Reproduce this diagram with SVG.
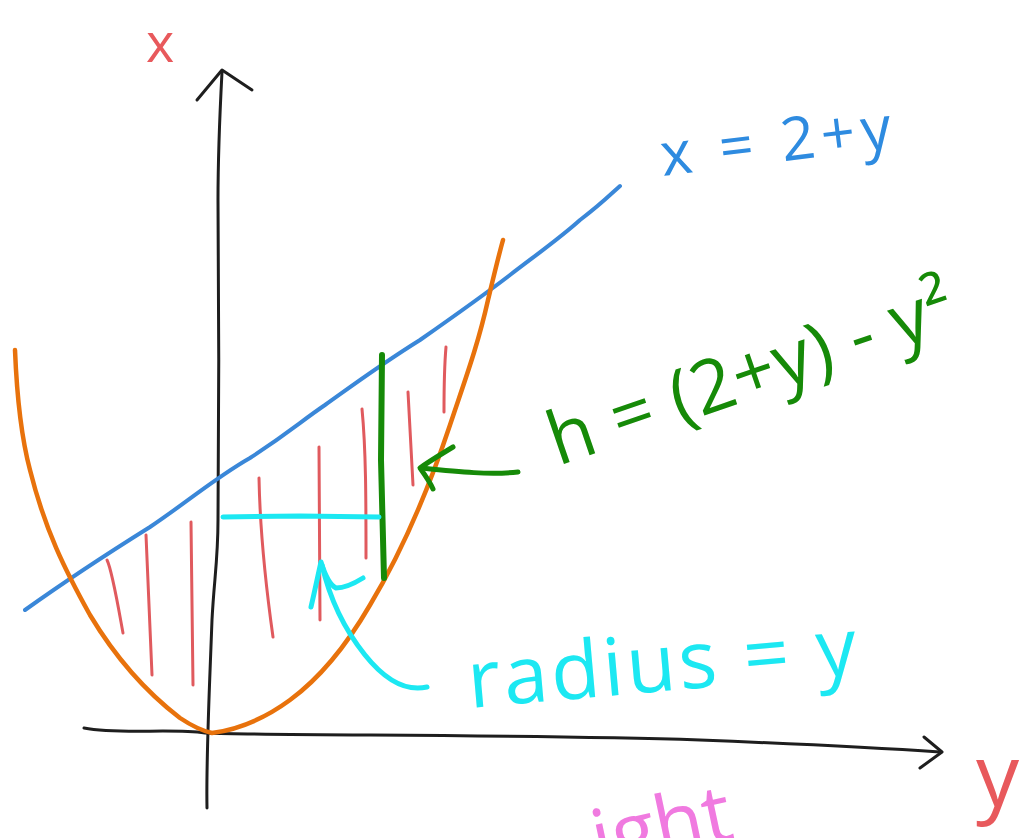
<svg xmlns="http://www.w3.org/2000/svg" width="1029" height="838" viewBox="0 0 1029 838">
<style>
.ink{fill:none;stroke-linecap:round;stroke-linejoin:round}
.axis{stroke:#1e1e1e;stroke-width:3}
.hatch{stroke:#e05a5e;stroke-width:3}
.lbl{font-family:"Open Sans","Liberation Sans",sans-serif}
</style>
<rect width="1029" height="838" fill="#ffffff"/>
<g id="axes">
<path class="ink axis" d="M207,808 C206,760 209,700 212,620 C214,580 218,560 218,520 C219,420 219,300 218,200 C218,150 220,110 222,72"/>
<path class="ink axis" d="M197,100 L222,70 L252,90"/>
<path class="ink axis" d="M84,728 C120,735 170,728 205,733 C300,736 500,734 700,740 C800,744 880,748 940,752"/>
<path class="ink axis" d="M924,737 L942,752 L920,768"/>
</g>
<g id="line-x-2-y">
<path class="ink" stroke="#3a87d8" stroke-width="4" d="M25,610 C60,585 110,552 150,527 C190,500 215,478 250,458 C290,432 300,422 325,405 C360,380 380,365 420,340 C460,312 480,298 510,275 C540,252 560,238 580,220 C600,205 610,195 620,186"/>
</g>
<g id="parabola">
<path class="ink" stroke="#e8720c" stroke-width="4.5" d="M15,350 C17,400 22,440 30,470 C45,530 65,570 90,615 C120,665 150,695 180,718 C195,728 203,731 212,733 C235,730 260,722 290,700 C320,678 345,648 370,605 C400,555 425,500 450,425 C465,380 478,345 488,300 C494,275 498,258 503,240"/>
</g>
<g id="hatching">
<path class="ink hatch" d="M107,560 C112,570 117,600 123,633"/>
<path class="ink hatch" d="M146,535 L152,675"/>
<path class="ink hatch" d="M191,522 L193,685"/>
<path class="ink hatch" d="M259,478 C260,530 265,580 273,637"/>
<path class="ink hatch" d="M319,447 L320,620"/>
<path class="ink hatch" d="M362,409 C366,450 366,500 366,558"/>
<path class="ink hatch" d="M408,392 L413,485"/>
<path class="ink hatch" d="M446,347 C444,370 444,390 444,412"/>
</g>
<g id="height-bar">
<path class="ink" stroke="#168a08" stroke-width="6" d="M382,355 L381,460 L384,578"/>
</g>
<g id="radius-bar">
<path class="ink" stroke="#1ce8f2" stroke-width="5" d="M223,517 L300,516 L379,517"/>
</g>
<g id="connectors">
<path class="ink" stroke="#168a08" stroke-width="5" d="M518,472 C490,475 460,472 422,468"/>
<path class="ink" stroke="#168a08" stroke-width="5" d="M453,447 C440,455 428,462 420,468 C425,475 430,482 433,489"/>
<path class="ink" stroke="#1ce8f2" stroke-width="5" d="M427,687 C405,692 385,680 365,655 C345,630 330,600 322,565"/>
<path class="ink" stroke="#1ce8f2" stroke-width="5" d="M311,607 C315,590 318,575 321,562 C325,575 330,585 336,588 C345,588 355,583 363,578"/>
</g>
<g id="labels" class="lbl">
<text x="146" y="62" font-size="54" fill="#e8595c">x</text>
<text x="976" y="806" font-size="86" fill="#e8595c">y</text>
<text x="663" y="176" font-size="60" fill="#2e8be0" transform="rotate(-7 663 176)" textLength="232" lengthAdjust="spacing">x = 2+y</text>
<text x="558" y="466" font-size="74" fill="#168a08" transform="rotate(-19 558 466)" textLength="425" lengthAdjust="spacing">h = (2+y) - y²</text>
<text x="470" y="708" font-size="80" fill="#1ce8f2" transform="rotate(-5 470 708)" textLength="390" lengthAdjust="spacing">radius = y</text>
<text x="598" y="868" font-size="80" fill="#f07ae0" transform="rotate(-12 598 868)">ight</text>
</g>
</svg>
